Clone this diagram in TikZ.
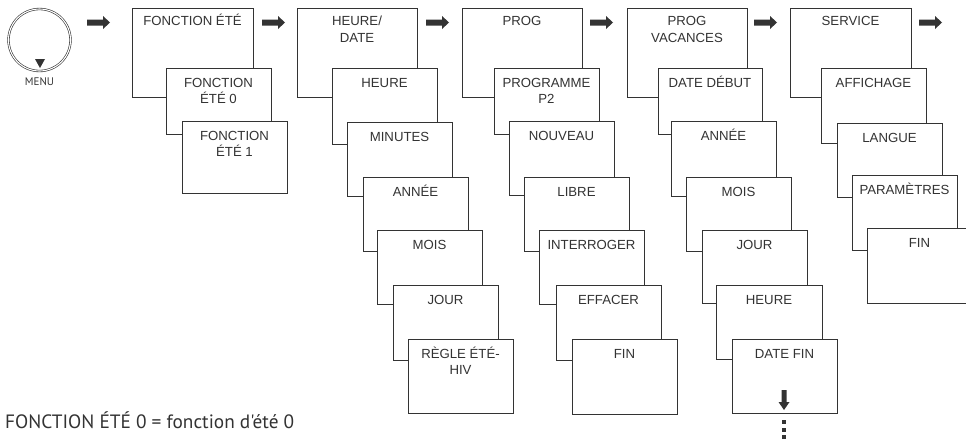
\documentclass[tikz,border=0pt]{standalone}
\usepackage{fontspec}
\setmainfont{Liberation Sans}
\newfontfamily\notefont{PT Sans}
\usetikzlibrary{calc}
\definecolor{ink}{HTML}{333333}
\tikzset{
  mbox/.style={draw=ink, line width=0.9pt, fill=white, rectangle, inner sep=0pt, outer sep=0pt},
  mtext/.style={inner sep=0pt, outer sep=0pt, text=ink, align=center, font=\fontsize{13.2}{16.5}\selectfont},
  rarrow/.pic={\fill[ink] (0,-3) -- (16,-3) -- (16,-6.5) -- (23,0) -- (16,6.5) -- (16,3) -- (0,3) -- cycle;}
}
% #1 name, #2 x1, #3 y1, #4 x2, #5 y2, #6 text offset, #7 text
\newcommand\menubox[7]{%
  \node[mbox, minimum width={#4-#2}, minimum height={#5-#3}, anchor=north west] (#1) at (#2,#3) {};
  \node[mtext, anchor=north] (#1-t) at ($(#1.north)+(0,#6)$) {\rule{0pt}{13pt}#7};
}
\begin{document}
\begin{tikzpicture}[x=1pt, y=-1pt]
\useasboundingbox[fill=white] (0,0) rectangle (966,440);

% menu dial
\node[circle, draw=ink, line width=0.6pt, double=white, double distance=1.1pt, minimum size=62, inner sep=0pt] (dial) at (39.5,40) {};
\fill[ink] (35,59) -- (45,59) -- (40,68) -- cycle;
\node[font=\notefont\fontsize{11}{13}\selectfont, text=ink, inner sep=0pt] (menu) at (39.5,82) {MENU};

% arrows
\pic at (87,22.5) {rarrow};
\pic at (262,22.5) {rarrow};
\pic at (426,22.5) {rarrow};
\pic at (590,22.5) {rarrow};
\pic at (754,22.5) {rarrow};
\pic at (919,22.5) {rarrow};

% column 1
\menubox{c1}{132}{8}{253}{97}{4.5}{FONCTION ÉTÉ}
\menubox{c1a}{166}{68}{271}{134}{6}{FONCTION\\ÉTÉ 0}
\menubox{c1b}{182}{121}{287}{193}{6}{FONCTION\\ÉTÉ 1}

% column 2
\menubox{c2}{297}{8}{417}{97}{4.5}{HEURE/\\DATE}
\menubox{c2a}{332}{68}{437}{144}{6}{HEURE}
\menubox{c2b}{347}{122}{452}{196}{6}{MINUTES}
\menubox{c2c}{363}{177}{468}{251}{6}{ANNÉE}
\menubox{c2d}{377}{230}{482}{304}{6}{MOIS}
\menubox{c2e}{393}{285}{498}{360}{6}{JOUR}
\menubox{c2f}{408}{339}{513}{413}{6}{RÈGLE ÉTÉ-\\HIV}

% column 3
\menubox{c3}{462}{8}{582}{97}{4.5}{PROG}
\menubox{c3a}{494}{68}{599}{134}{6}{PROGRAMME\\P2}
\menubox{c3b}{509}{121}{614}{195}{6}{NOUVEAU}
\menubox{c3c}{524}{177}{629}{251}{6}{LIBRE}
\menubox{c3d}{539}{230}{644}{304}{6}{INTERROGER}
\menubox{c3e}{556}{285}{661}{360}{6}{EFFACER}
\menubox{c3f}{572}{339}{677}{414}{6}{FIN}

% column 4
\menubox{c4}{627}{8}{747}{97}{4.5}{PROG\\VACANCES}
\menubox{c4a}{658}{68}{762}{134}{6}{DATE DÉBUT}
\menubox{c4b}{671}{121}{776}{196}{6}{ANNÉE}
\menubox{c4c}{686}{177}{791}{251}{6}{MOIS}
\menubox{c4d}{702}{230}{807}{303}{6}{JOUR}
\menubox{c4e}{716}{285}{822}{359}{6}{HEURE}
\menubox{c4f}{732}{339}{837}{413}{6}{DATE FIN}

% continuation marks
\fill[ink] (781.5,390) -- (786.5,390) -- (786.5,402) -- (789.5,402) -- (784,410) -- (778.5,402) -- (781.5,402) -- cycle;
\fill[ink] (782,420) rectangle (786,424);
\fill[ink] (782,427.5) rectangle (786,431.5);
\fill[ink] (782,435) rectangle (786,439);

% column 5
\menubox{c5}{790}{8}{911}{97}{4.5}{SERVICE}
\menubox{c5a}{821}{68}{926}{143}{6}{AFFICHAGE}
\menubox{c5b}{837}{123}{942}{197}{6}{LANGUE}
\menubox{c5c}{852}{175}{957}{250}{6}{PARAMÈTRES}
\menubox{c5d}{867}{228}{972}{303}{6}{FIN}

% note
\node[anchor=base west, inner sep=0pt, text=ink, font=\notefont\fontsize{19.3}{24}\selectfont] (note) at (5,428) {FONCTION ÉTÉ 0 = fonction d'été 0};
\end{tikzpicture}
\end{document}
